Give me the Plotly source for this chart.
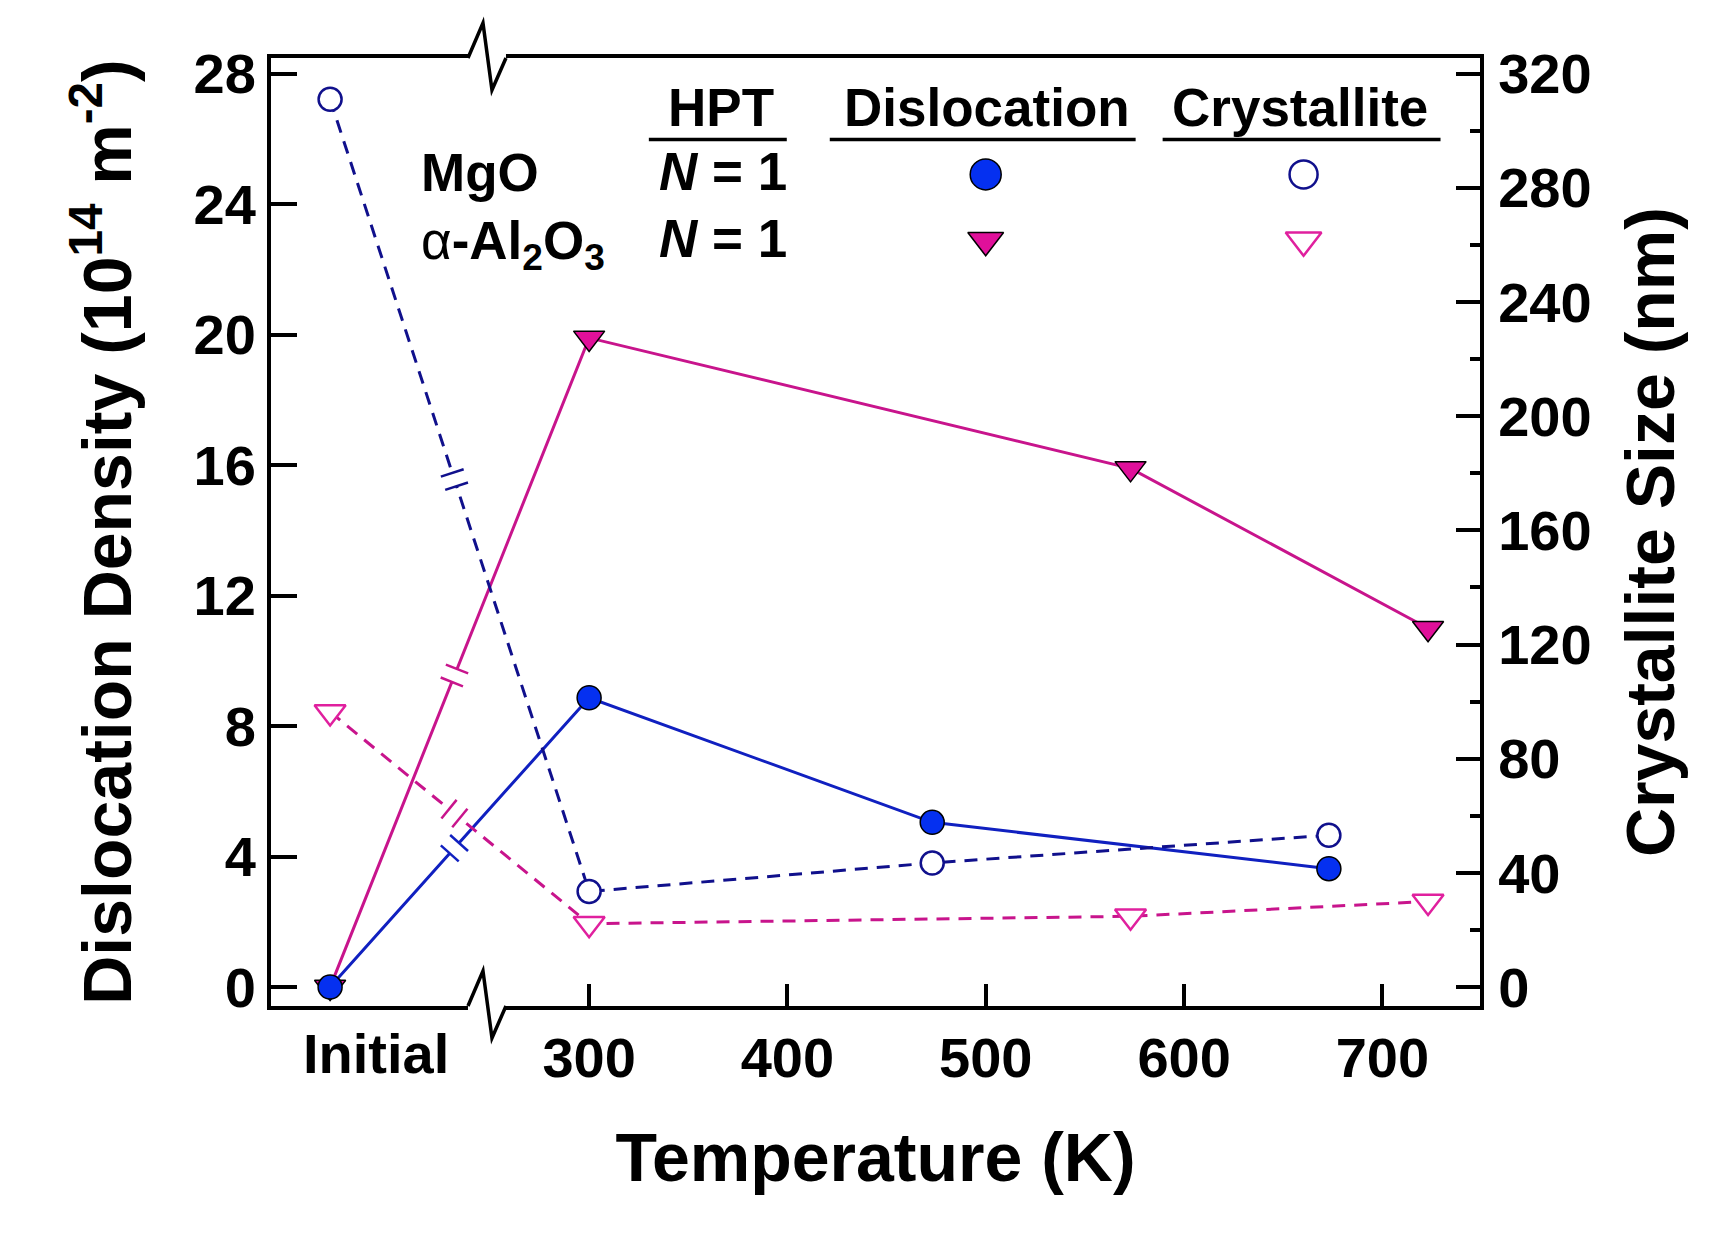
import math

import plotly.graph_objects as go

# values
mgo_temp = ["Initial", 300, 473, 673]
mgo_dislocation = [0.0, 8.87, 5.05, 3.63]      # 10^14 m^-2
mgo_crystallite = [311.0, 33.5, 43.5, 53.2]    # nm

al2o3_temp = ["Initial", 300, 573, 723]
al2o3_dislocation = [0.0, 19.9, 15.9, 11.0]
al2o3_crystallite = [96.4, 22.2, 24.8, 30.0]

x_ticks = [300, 400, 500, 600, 700]
left_ticks = [0, 4, 8, 12, 16, 20, 24, 28]
right_ticks = [0, 40, 80, 120, 160, 200, 240, 280, 320]

# page / plot geometry in pixels
W, H = 1715, 1235
PL, PR, PT, PB = 271, 1480.5, 57.5, 1006.5
X_RANGE = [139.6, 749.2]
Y_RANGE = [-0.58, 28.48]
Y2_RANGE = [v * 320 / 28 for v in Y_RANGE]
INITIAL_POS = 169.4        # where "Initial" sits on the temperature axis
INITIAL_LABEL_POS = 192.3
BREAK_POS = 248.5
BREAK_T = 0.48             # fraction along the Initial->300 K segment

FONT = "Liberation Sans, Arial, sans-serif"
BLUE_FILL = "#0530F0"
BLUE_LINE = "#1020C0"
NAVY = "#10108C"
MAG_FILL = "#E0109A"
MAG_LINE = "#C8148C"
MAG_OPEN = "#E0209E"


def xs(temps):
    return [INITIAL_POS if t == "Initial" else t for t in temps]


def px_x(v):
    return PL + (v - X_RANGE[0]) / (X_RANGE[1] - X_RANGE[0]) * (PR - PL)


def px_y(v, rng):
    return PB - (v - rng[0]) / (rng[1] - rng[0]) * (PB - PT)


fig = go.Figure()

# alpha-Al2O3 first so the MgO circle sits on top at "Initial"
fig.add_trace(go.Scatter(
    x=xs(al2o3_temp), y=al2o3_crystallite, yaxis="y2", mode="lines+markers",
    line=dict(color=MAG_LINE, width=3, dash="13px,9px"),
    marker=dict(symbol="triangle-down", size=27, color="white",
                line=dict(color=MAG_OPEN, width=2.5))))
fig.add_trace(go.Scatter(
    x=xs(al2o3_temp), y=al2o3_dislocation, mode="lines+markers",
    line=dict(color=MAG_LINE, width=3),
    marker=dict(symbol="triangle-down", size=27, color=MAG_FILL,
                line=dict(color="black", width=1.5))))
fig.add_trace(go.Scatter(
    x=xs(mgo_temp), y=mgo_crystallite, yaxis="y2", mode="lines+markers",
    line=dict(color=NAVY, width=3, dash="13px,9px"),
    marker=dict(symbol="circle", size=23, color="white",
                line=dict(color=NAVY, width=2.5))))
fig.add_trace(go.Scatter(
    x=xs(mgo_temp), y=mgo_dislocation, mode="lines+markers",
    line=dict(color=BLUE_LINE, width=3),
    marker=dict(symbol="circle", size=24, color=BLUE_FILL,
                line=dict(color="black", width=1.5))))

# legend table keys, placed on a hidden pixel axis pair
key_x = [986, 1304]
key_y = [174, 240]
fig.add_trace(go.Scatter(
    x=[key_x[0]], y=[key_y[0]], xaxis="x3", yaxis="y3", mode="markers",
    marker=dict(symbol="circle", size=31, color=BLUE_FILL, line=dict(color="black", width=1.5))))
fig.add_trace(go.Scatter(
    x=[key_x[1]], y=[key_y[0]], xaxis="x3", yaxis="y3", mode="markers",
    marker=dict(symbol="circle", size=28, color="white", line=dict(color=NAVY, width=2.5))))
fig.add_trace(go.Scatter(
    x=[key_x[0]], y=[key_y[1]], xaxis="x3", yaxis="y3", mode="markers",
    marker=dict(symbol="triangle-down", size=31, color=MAG_FILL, line=dict(color="black", width=1.5))))
fig.add_trace(go.Scatter(
    x=[key_x[1]], y=[key_y[1]], xaxis="x3", yaxis="y3", mode="markers",
    marker=dict(symbol="triangle-down", size=31, color="white", line=dict(color=MAG_OPEN, width=2.5))))

shapes = []
annotations = []

# legend headers with underlines
for text, cx, x0, x1 in [("HPT", 721, 649, 787),
                         ("Dislocation", 987, 830, 1136),
                         ("Crystallite", 1300, 1163, 1441)]:
    annotations.append(dict(x=cx, y=107, xref="x3", yref="y3", text=text, showarrow=False,
                            font=dict(size=53, family=FONT, weight="bold", color="black")))
    shapes.append(dict(type="line", xref="x3", yref="y3", x0=x0, x1=x1, y0=139, y1=139,
                       line=dict(color="black", width=3.5)))
for text, y in [("MgO", 172), ("α<b>-Al<sub>2</sub>O<sub>3</sub></b>", 244)]:
    annotations.append(dict(x=419, y=y, xref="x3", yref="y3", text=text, showarrow=False,
                            xanchor="left",
                            font=dict(size=53, family=FONT,
                                      weight="bold" if text == "MgO" else "normal", color="black")))
for y in [171, 238]:
    annotations.append(dict(x=723, y=y, xref="x3", yref="y3", text="<i>N</i> = 1", showarrow=False,
                            font=dict(size=53, family=FONT, weight="bold", color="black")))

# "Initial" category label
annotations.append(dict(x=INITIAL_LABEL_POS, y=0, xref="x", yref="paper", yanchor="top",
                        yshift=-14, text="Initial", showarrow=False,
                        font=dict(size=56, family=FONT, weight="bold", color="black")))

# break marks on the segments that cross the axis break
for temps, vals, rng, color in [(mgo_temp, mgo_dislocation, Y_RANGE, BLUE_LINE),
                                (mgo_temp, mgo_crystallite, Y2_RANGE, NAVY),
                                (al2o3_temp, al2o3_dislocation, Y_RANGE, MAG_LINE),
                                (al2o3_temp, al2o3_crystallite, Y2_RANGE, MAG_LINE)]:
    ax0, ay0 = px_x(INITIAL_POS), px_y(vals[0], rng)
    ax1, ay1 = px_x(temps[1]), px_y(vals[1], rng)
    L = math.hypot(ax1 - ax0, ay1 - ay0)
    ux, uy = (ax1 - ax0) / L, (ay1 - ay0) / L
    nx, ny = -uy, ux
    cx, cy = ax0 + BREAK_T * (ax1 - ax0), ay0 + BREAK_T * (ay1 - ay0)
    shapes.append(dict(type="line", xref="x3", yref="y3",
                       x0=cx - 7 * ux, y0=cy - 7 * uy, x1=cx + 7 * ux, y1=cy + 7 * uy,
                       line=dict(color="white", width=7)))
    for s in (-7, 7):
        mx, my = cx + s * ux, cy + s * uy
        shapes.append(dict(type="line", xref="x3", yref="y3",
                           x0=mx - 12 * nx, y0=my - 12 * ny, x1=mx + 12 * nx, y1=my + 12 * ny,
                           line=dict(color=color, width=2.5)))

# zigzag axis break on the top and bottom frame lines
bx = (px_x(BREAK_POS) - PL) / (PR - PL)
for yanc in (0, 1):
    shapes.append(dict(type="rect", xref="paper", yref="paper", xsizemode="pixel",
                       ysizemode="pixel", xanchor=bx, yanchor=yanc,
                       x0=-19, x1=19, y0=-6, y1=6, fillcolor="white", line=dict(width=0)))
    shapes.append(dict(type="path", xref="paper", yref="paper", xsizemode="pixel",
                       ysizemode="pixel", xanchor=bx, yanchor=yanc,
                       path="M-19,0 L-4,35 L5,-32 L19,0",
                       line=dict(color="black", width=3.5)))

tick_font = dict(size=56, family=FONT, weight="bold", color="black")
title_font = dict(size=68, family=FONT, weight="bold", color="black")

fig.update_layout(
    width=W, height=H,
    margin=dict(l=PL, r=W - PR, t=PT, b=H - PB, pad=0),
    paper_bgcolor="white", plot_bgcolor="white",
    showlegend=False,
    shapes=shapes, annotations=annotations,
    xaxis=dict(range=X_RANGE, showgrid=False, zeroline=False,
               showline=True, linecolor="black", linewidth=4, mirror=True,
               tickmode="array", tickvals=x_ticks, ticks="inside", ticklen=22,
               tickwidth=3.5, tickcolor="black", tickfont=tick_font, ticklabelstandoff=0,
               title=dict(text="Temperature (K)", font=title_font, standoff=46)),
    yaxis=dict(range=Y_RANGE, showgrid=False, zeroline=False,
               showline=True, linecolor="black", linewidth=4,
               tickmode="array", tickvals=left_ticks, ticks="inside", ticklen=26,
               tickwidth=3.5, tickcolor="black", tickfont=tick_font, ticklabelstandoff=0,
               title=dict(text="Dislocation Density (10<sup>14</sup> m<sup>-2</sup>)",
                          font=title_font, standoff=41)),
    yaxis2=dict(range=Y2_RANGE, overlaying="y", side="right", showgrid=False, zeroline=False,
                showline=True, linecolor="black", linewidth=4,
                tickmode="array", tickvals=right_ticks, ticks="inside", ticklen=24,
                tickwidth=3.5, tickcolor="black", tickfont=tick_font, ticklabelstandoff=3,
                minor=dict(dtick=20, ticks="inside", ticklen=10, tickwidth=3.5,
                           tickcolor="black", showgrid=False),
                title=dict(text="Crystallite Size (nm)", font=title_font, standoff=37)),
    xaxis3=dict(range=[PL, PR], overlaying="x", visible=False),
    yaxis3=dict(range=[PB, PT], overlaying="y", visible=False),
)

# the page is exactly the figure size, so drop the default body margin
fig.write_html("out.html", config={"displayModeBar": False},
               post_script="document.body.style.margin = '0';")
